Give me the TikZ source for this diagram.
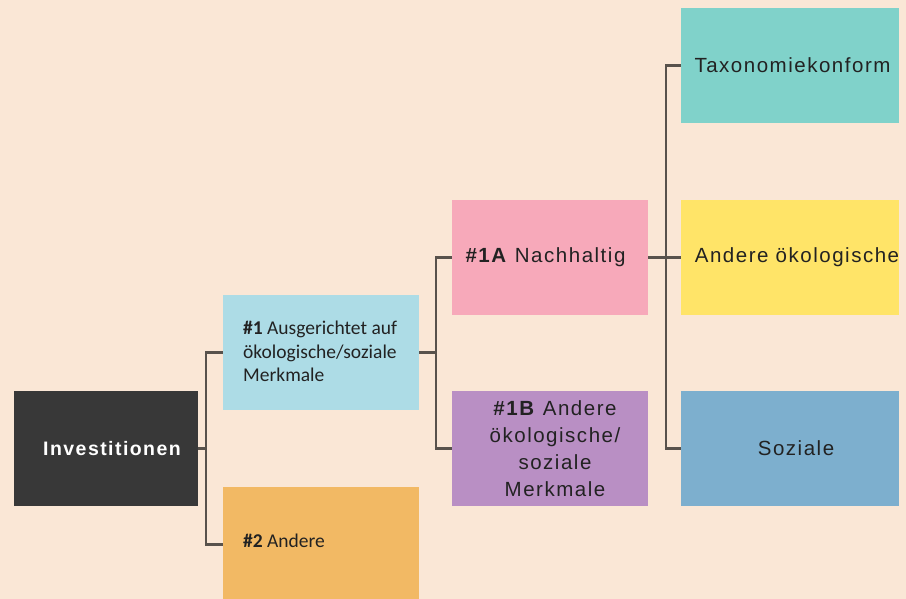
\documentclass[tikz,border=0pt]{standalone}
\usepackage{fontspec}
\setmainfont{Liberation Sans}
\newfontfamily\grot[LetterSpace=7.4]{Liberation Sans}
\newfontfamily\calib{Carlito}
\definecolor{bgc}{RGB}{250,231,214}
\definecolor{darkc}{RGB}{56,56,56}
\definecolor{lbluec}{RGB}{173,220,230}
\definecolor{orangec}{RGB}{242,185,100}
\definecolor{pinkc}{RGB}{247,169,186}
\definecolor{purplec}{RGB}{185,143,196}
\definecolor{tealc}{RGB}{128,210,202}
\definecolor{yellowc}{RGB}{255,228,104}
\definecolor{bluec}{RGB}{125,175,206}
\definecolor{linec}{RGB}{88,82,76}
\definecolor{txtc}{RGB}{34,34,34}
\begin{document}
\begin{tikzpicture}[x=1pt,y=-1pt,
  box/.style={rectangle, minimum width=196pt, minimum height=115pt, inner sep=0pt,
    text=txtc, align=center, font=\grot\fontsize{20.5}{27}\selectfont},
  caltext/.style={anchor=west, inner sep=0pt, align=left, text=txtc,
    font=\calib\fontsize{19.5}{23.5}\selectfont},
  widebox/.style={box, minimum width=218pt},
  conn/.style={draw=linec, line width=2.2pt}]
\fill[bgc] (0,0) rectangle (906,599);
\useasboundingbox (0,0) rectangle (906,599);

\node[box, fill=darkc, text=white, minimum width=184pt,
  font=\grot\bfseries\fontsize{19.5}{27}\selectfont] (inv) at (106,448.5) {\hspace*{12pt}Investitionen};
\node[box, fill=lbluec] (a1) at (321,352.5) {};
\node[caltext] (a1t) at (243,351.5) {\textbf{\#1} Ausgerichtet auf\\ökologische/soziale\\Merkmale};
\node[box, fill=orangec] (a2) at (321,544.5) {};
\node[caltext] (a2t) at (243,541) {\textbf{\#2} Andere};
\node[box, fill=pinkc] (b1) at (550,257.5) {\raisebox{-3pt}{\hspace*{-9pt}\textbf{\#1A} Nachhaltig}};
\node[box, fill=purplec] (b2) at (550,448.5) {\hspace*{10pt}\textbf{\#1B} Andere\\\hspace*{10pt}ökologische/\\\hspace*{10pt}soziale\\\hspace*{10pt}Merkmale};
\node[widebox, fill=tealc] (t1) at (790,65.5) {\hspace*{5pt}Taxonomiekonform};
\node[widebox, fill=yellowc] (t2) at (790,257.5) {\raisebox{-1pt}{\hspace*{14pt}Andere ökologische}};
\node[widebox, fill=bluec] (t3) at (790,448.5) {\hspace*{12pt}Soziale};

\coordinate (j1) at (206,448.5);
\coordinate (j2) at (436,352.5);
\coordinate (j3) at (666,257.5);

\draw[conn] (inv.east) -- (j1);
\draw[conn] (a1.west) -| (j1) |- (a2.west);
\draw[conn] (a1.east) -- (j2);
\draw[conn] (b1.west) -| (j2) |- (b2.west);
\draw[conn] (b1.east) -- (t2.west);
\draw[conn] (t1.west) -| (j3) |- (t3.west);
\end{tikzpicture}
\end{document}
